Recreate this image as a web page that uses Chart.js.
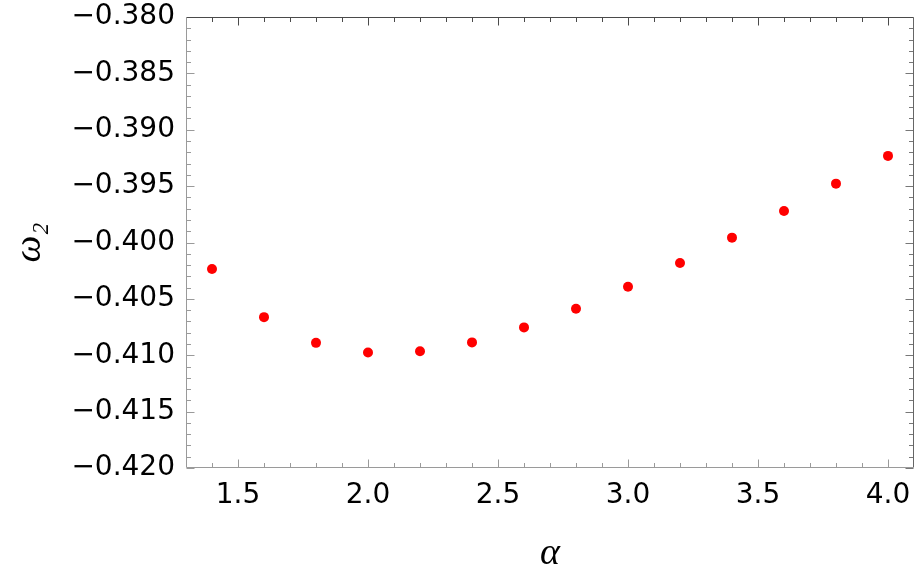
<!DOCTYPE html>
<html><head><meta charset="utf-8">
<script src="https://cdn.jsdelivr.net/npm/chart.js@4"></script>
<style>html,body{margin:0;padding:0;background:#fff}#wrap{width:915px;height:582px}</style>
</head><body><div id="wrap"><canvas id="c" width="915" height="582"></canvas></div>
<script>
const alphaValues = [1.4, 1.6, 1.8, 2.0, 2.2, 2.4, 2.6, 2.8, 3.0, 3.2, 3.4, 3.6, 3.8, 4.0];
const omega2Values = [-0.40235, -0.40662, -0.40890, -0.40975, -0.40964, -0.40886, -0.40753,
                      -0.40588, -0.40393, -0.40182, -0.39957, -0.39720, -0.39478, -0.39232];
const xTickValues = [1.5, 2.0, 2.5, 3.0, 3.5, 4.0];
const xTickLabels = ['1.5', '2.0', '2.5', '3.0', '3.5', '4.0'];
const yTickValues = [-0.420, -0.415, -0.410, -0.405, -0.400, -0.395, -0.390, -0.385, -0.380];
const yTickLabels = ['\u22120.420', '\u22120.415', '\u22120.410', '\u22120.405', '\u22120.400',
                     '\u22120.395', '\u22120.390', '\u22120.385', '\u22120.380'];
const xRange = [1.3, 4.1];
const yRange = [-0.420, -0.380];
const xMinorStep = 0.1;
const yMinorStep = 0.001;

const tickFont = {family: '"DejaVu Sans", Verdana, sans-serif', size: 28};
const titleFont = {family: '"Liberation Serif", "DejaVu Serif", serif', size: 38, style: 'italic'};

function minorTicks(min, max, step, majors) {
  const out = [];
  const n = Math.round((max - min) / step);
  for (let i = 1; i < n; i++) {
    const v = +(min + i * step).toFixed(6);
    if (!majors.some(m => Math.abs(m - v) < step / 10)) out.push(v);
  }
  return out;
}

const frameTicks = {
  id: 'frameTicks',
  afterDatasetsDraw(chart) {
    const {ctx, chartArea: a, scales: {x, y}} = chart;
    const xl = Math.round(a.left) + 0.5, xr = Math.round(a.right) - 0.5;
    const yt = Math.round(a.top) + 0.5, yb = Math.round(a.bottom) - 0.5;
    ctx.save();
    ctx.lineWidth = 1;
    const line = (x1, y1, x2, y2, c) => { ctx.strokeStyle = c; ctx.beginPath(); ctx.moveTo(x1, y1); ctx.lineTo(x2, y2); ctx.stroke(); };
    const gray = '#9a9a9a', dark = '#4a4a4a';
    const xMin = minorTicks(xRange[0], xRange[1], xMinorStep, xTickValues);
    const yMin = minorTicks(yRange[0], yRange[1], yMinorStep, yTickValues);
    xTickValues.forEach(v => { const p = Math.round(x.getPixelForValue(v)) + 0.5;
      line(p, yb, p, yb - 8, gray); line(p, yt, p, yt + 8, dark); });
    xMin.forEach(v => { const p = Math.round(x.getPixelForValue(v)) + 0.5;
      line(p, yb, p, yb - 4.5, gray); line(p, yt, p, yt + 4.5, dark); });
    yTickValues.forEach(v => { const p = Math.round(y.getPixelForValue(v)) + 0.5;
      line(xl, p, xl + 8, p, gray); line(xr, p, xr - 8, p, '#777'); });
    yMin.forEach(v => { const p = Math.round(y.getPixelForValue(v)) + 0.5;
      line(xl, p, xl + 4.5, p, gray); line(xr, p, xr - 4.5, p, '#777'); });
    line(xl, yt, xr, yt, dark);
    line(xr, yt, xr, yb, '#666');
    line(xl, yb, xr, yb, gray);
    line(xl, yt, xl, yb, gray);
    ctx.restore();
  }
};

const whiteBg = {
  id: 'whiteBg',
  beforeDraw(chart) { const c = chart.ctx; c.save(); c.fillStyle = '#fff'; c.fillRect(0, 0, chart.width, chart.height); c.restore(); }
};

new Chart(document.getElementById('c'), {
  type: 'scatter',
  data: {
    datasets: [{
      data: alphaValues.map((a, i) => ({x: a, y: omega2Values[i]})),
      backgroundColor: '#ff0000',
      borderColor: '#ff0000',
      borderWidth: 0,
      pointRadius: 5,
      pointHoverRadius: 5
    }]
  },
  options: {
    responsive: false,
    animation: false,
    devicePixelRatio: 1,
    layout: {autoPadding: false, padding: {top: 17, right: 1, left: 0, bottom: 0}},
    plugins: {legend: {display: false}, tooltip: {enabled: false}},
    scales: {
      x: {
        type: 'linear', min: xRange[0], max: xRange[1],
        afterBuildTicks: s => { s.ticks = xTickValues.map(v => ({value: v})); },
        afterFit: s => { s.height = 114; s.paddingLeft = 0; s.paddingRight = 0; },
        grid: {display: false, drawTicks: false},
        border: {display: false},
        ticks: {font: tickFont, color: '#000', padding: 11, maxRotation: 0, autoSkip: false,
          callback: v => xTickLabels[xTickValues.findIndex(t => Math.abs(t - v) < 1e-9)]},
        title: {display: true, text: '\u03B1', font: titleFont, color: '#000', padding: {top: 0, bottom: 5}}
      },
      y: {
        type: 'linear', min: yRange[0], max: yRange[1],
        afterBuildTicks: s => { s.ticks = yTickValues.map(v => ({value: v})); },
        afterFit: s => { s.width = 186; s.paddingTop = 0; s.paddingBottom = 0; },
        grid: {display: false, drawTicks: false},
        border: {display: false},
        ticks: {font: tickFont, color: '#000', padding: 11, autoSkip: false,
          callback: v => yTickLabels[yTickValues.findIndex(t => Math.abs(t - v) < 1e-9)]},
        title: {display: true, text: '\u03C9\u2082', font: titleFont, color: '#000', padding: {top: 7, bottom: 0}}
      }
    }
  },
  plugins: [whiteBg, frameTicks]
});
</script>
</body></html>
